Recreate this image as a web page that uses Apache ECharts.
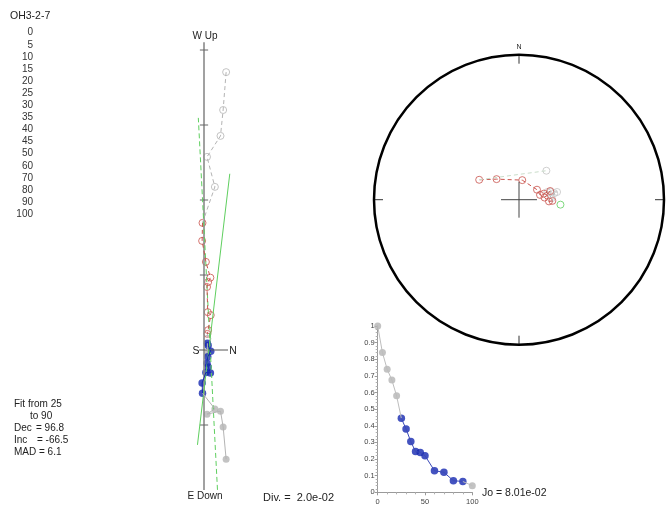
<!DOCTYPE html>
<html><head><meta charset="utf-8">
<script src="https://cdn.jsdelivr.net/npm/echarts@6/dist/echarts.min.js"></script>
<style>html,body{margin:0;background:#fff}#c{width:670px;height:509px}</style>
</head><body><div id="c"></div>
<script>
// ---- specimen data ----
const sampleName = 'OH3-2-7';
const steps = [0, 5, 10, 15, 20, 25, 30, 35, 40, 45, 50, 60, 70, 80, 90, 100];
// remanence components per step, in 1e-3 A/m
const northComp = [5.9, 5.1, 4.4, 0.8, 2.9, -0.4, -0.5, 0.5, 1.7, 1.1, 0.8, 1.0, 1.8, 1.1, 0.9, 0.9];
const eastComp  = [29.1, 20.5, 16.3, 17.1, 15.7, 11.5, 8.8, 6.0, 6.1, 4.5, 3.5, 1.8, 0.3, -1.2, -1.8, 0.85];
const upComp    = [74.1, 64.0, 57.1, 51.5, 43.5, 33.9, 29.1, 23.5, 19.3, 18.1, 16.8, 10.1, 9.3, 5.3, 4.3, 3.0];
// J/Jo per step
const demagRatio = [1, 0.84, 0.74, 0.675, 0.58, 0.445, 0.38, 0.305, 0.245, 0.24, 0.22, 0.13, 0.12, 0.07, 0.065, 0.04];
// PCA fit
const fitFrom = 25, fitTo = 90;
const fitDec = 96.8, fitInc = -66.5, fitMad = 6.1;
const joText = '8.01e-02';
const divText = '2.0e-02';
// orthogonal plot axis furniture (1e-3 A/m)
const zijTicks = [-20, 20, 40, 60, 80];
const zijVertExtent = [-37.3, 82.1];   // E Down .. W Up
const zijHorizExtent = [-1.3, 6.4];    // S .. N
const fitEastRange = [-47, 25.3];
const fitUpRange = [-37.3, 61.9];

// ---- derived ----
const font = 'Liberation Sans, Arial, Helvetica, sans-serif';
const RED = '#c9534c', GREY = '#b4b4b4', BLUE = '#1528b0', GREEN = '#5fcf5f';
const inFit = steps.map(s => s >= fitFrom && s <= fitTo);
const f0 = inFit.indexOf(true), f1 = inFit.lastIndexOf(true);

const vertProj = steps.map((s, i) => [northComp[i], upComp[i]]);
const horizProj = steps.map((s, i) => [northComp[i], -eastComp[i]]);
const pick = (arr, pred) => arr.filter((v, i) => pred(i));

// equal-area radius for an inclination (unit primitive)
const eaR = inc => Math.sqrt(1 - Math.sin(Math.abs(inc) * Math.PI / 180));
const dirs = steps.map((s, i) => {
  const h = Math.hypot(northComp[i], eastComp[i]);
  let dec = Math.atan2(eastComp[i], northComp[i]) * 180 / Math.PI;
  if (dec < 0) dec += 360;
  const inc = Math.atan2(-upComp[i], h) * 180 / Math.PI;
  return [eaR(inc), dec];
});

// fit line through centroid of fitted steps
const fitIdx = steps.map((s, i) => i).filter(i => inFit[i]);
const mean = a => fitIdx.reduce((t, i) => t + a[i], 0) / fitIdx.length;
const cN = mean(northComp), cE = mean(eastComp), cU = mean(upComp);
const dr = Math.PI / 180;
const dN = Math.cos(fitInc * dr) * Math.cos(fitDec * dr);
const dE = Math.cos(fitInc * dr) * Math.sin(fitDec * dr);
const dU = -Math.sin(fitInc * dr);
const fitHoriz = fitEastRange.map(e => [cN + (e - cE) * dN / dE, -e]);
const fitVert = fitUpRange.map(u => [cN + (u - cU) * dN / dU, u]);

const demagPts = steps.map((s, i) => [s, demagRatio[i]]);

const series = [];
const zij = { xAxisIndex: 0, yAxisIndex: 0 };
const seg = (data, color, type, width, extra) => Object.assign({
  type: 'line', data, symbol: 'none', silent: true, animation: false,
  lineStyle: { color, width: width || 1, type: type || 'solid' }
}, zij, extra || {});

// axes of orthogonal plot
series.push(seg([[0, zijVertExtent[1]], [0, zijVertExtent[0]]], '#8a8a8a', 'solid', 1.6));
series.push(seg([[zijHorizExtent[0], 0], [zijHorizExtent[1], 0]], '#555', 'solid', 1));
zijTicks.forEach(t => series.push(seg([[-1.1, t], [1.1, t]], '#666', 'solid', 1)));
// fit lines
series.push(seg(fitHoriz, GREEN, 'solid', 1));
series.push(seg(fitVert, GREEN, [5, 3], 1));
// vertical projection (open)
series.push(seg(vertProj.slice(0, f0 + 1), GREY, [4, 3], 1));
series.push(seg(vertProj.slice(f0, f1 + 1), RED, [4, 3], 1));
series.push(seg(vertProj.slice(f1), GREY, [4, 3], 1));
// horizontal projection (filled)
series.push(seg(horizProj.slice(0, f0 + 1), GREY, 'solid', 1));
series.push(seg(horizProj.slice(f0, f1 + 1), BLUE, 'solid', 1));
series.push(seg(horizProj.slice(f1), GREY, 'solid', 1));
const scat = (data, size, style, extra) => Object.assign({
  type: 'scatter', data, symbol: 'circle', symbolSize: size, silent: true, animation: false, itemStyle: style
}, extra || {});
series.push(scat(pick(vertProj, i => !inFit[i]), 7, { color: 'rgba(0,0,0,0)', borderColor: GREY, borderWidth: 1 }, zij));
series.push(scat(pick(vertProj, i => inFit[i]), 7, { color: 'rgba(0,0,0,0)', borderColor: RED, borderWidth: 1 }, zij));
series.push(scat(pick(horizProj, i => !inFit[i]), 7, { color: GREY }, zij));
series.push(scat(pick(horizProj, i => inFit[i]), 7.5, { color: BLUE }, zij));

// equal-area net
const pol = { coordinateSystem: 'polar' };
const pseg = (data, color, type) => Object.assign({
  type: 'line', data, symbol: 'none', silent: true, animation: false,
  lineStyle: { color, width: 1, type: type || 'solid' }
}, pol);
const cross = 0.124;
series.push(pseg([[cross, 0], [cross, 180]], '#444'));
series.push(pseg([[cross, 90], [cross, 270]], '#444'));
series.push(pseg(dirs.slice(0, f0 + 1), GREY, [4, 3]));
series.push(pseg(dirs.slice(f0, f1 + 1), RED, [4, 3]));
series.push(pseg(dirs.slice(f1), '#c9dcc9', [4, 3]));
series.push(scat(pick(dirs, i => !inFit[i]), 7, { color: 'rgba(0,0,0,0)', borderColor: '#c4c4c4', borderWidth: 1 }, pol));
series.push(scat(pick(dirs, i => inFit[i]), 7, { color: 'rgba(0,0,0,0)', borderColor: RED, borderWidth: 1 }, pol));
series.push(scat([[eaR(fitInc), fitDec]], 7, { color: 'rgba(0,0,0,0)', borderColor: GREEN, borderWidth: 1 }, pol));

// demagnetisation curve
const dm = { xAxisIndex: 1, yAxisIndex: 1 };
const dseg = (data, color) => Object.assign({
  type: 'line', data, symbol: 'none', silent: true, animation: false, lineStyle: { color, width: 1 }
}, dm);
series.push(dseg(demagPts.slice(0, f0 + 1), '#bdbdbd'));
series.push(dseg(demagPts.slice(f0, f1 + 1), '#3a49b8'));
series.push(dseg(demagPts.slice(f1), '#bdbdbd'));
series.push(scat(pick(demagPts, i => !inFit[i]), 7, { color: GREY }, dm));
series.push(scat(pick(demagPts, i => inFit[i]), 7.5, { color: BLUE }, dm));

// ---- text ----
const txt = (text, x, y, size, align, extra) => ({
  type: 'text', x, y, silent: true,
  style: Object.assign({
    text, font: `${size}px ${font}`, fill: '#222',
    align: align || 'left', textAlign: align || 'left',
    verticalAlign: 'middle', textVerticalAlign: 'middle'
  }, extra || {})
});
const graphic = [txt(sampleName, 10, 16, 10.5)];
steps.forEach((s, i) => graphic.push(txt(String(s), 33, 32.7 + i * 12.1, 10, 'right', { fill: '#333' })));
graphic.push(txt('Fit from ' + fitFrom, 14, 404, 10));
graphic.push(txt('to ' + fitTo, 30, 416, 10));
graphic.push(txt('Dec', 14, 428, 10));
graphic.push(txt('= ' + fitDec.toFixed(1), 36, 428, 10));
graphic.push(txt('Inc', 14, 440, 10));
graphic.push(txt('= ' + fitInc.toFixed(1), 37, 440, 10));
graphic.push(txt('MAD = ' + fitMad.toFixed(1), 14, 452, 10));
graphic.push(txt('W Up', 205, 36, 10, 'center'));
graphic.push(txt('E Down', 205, 496, 10, 'center'));
graphic.push(txt('S', 196, 351, 10.5, 'center'));
graphic.push(txt('N', 233, 351, 10.5, 'center'));
graphic.push(txt('Div. =  ' + divText, 263, 498, 11));
graphic.push(txt('Jo = ' + joText, 482, 493, 10.5));

const option = {
  animation: false,
  backgroundColor: '#fff',
  grid: [
    { left: 144, top: 20, width: 120, height: 480 },
    { left: 377.7, top: 326, width: 94.6, height: 166.3 }
  ],
  xAxis: [
    { type: 'value', gridIndex: 0, min: -16, max: 16, show: false },
    { type: 'value', gridIndex: 1, min: 0, max: 100, interval: 50,
      axisLine: { onZero: false, lineStyle: { color: '#9a9a9a' } },
      axisTick: { show: true, length: 3, lineStyle: { color: '#9a9a9a' } },
      minorTick: { show: true, splitNumber: 5, length: 2, lineStyle: { color: '#b0b0b0' } },
      splitLine: { show: false },
      axisLabel: { fontSize: 7.5, color: '#444', margin: 6, fontFamily: font } }
  ],
  yAxis: [
    { type: 'value', gridIndex: 0, min: -40, max: 88, show: false },
    { type: 'value', gridIndex: 1, min: 0, max: 1, interval: 0.1,
      axisLine: { show: true, onZero: false, lineStyle: { color: '#9a9a9a' } },
      axisTick: { show: true, length: 3, lineStyle: { color: '#9a9a9a' } },
      minorTick: { show: true, splitNumber: 5, length: 2, lineStyle: { color: '#b0b0b0' } },
      splitLine: { show: false },
      axisLabel: { fontSize: 7.5, color: '#444', margin: 3, fontFamily: font } }
  ],
  polar: { center: [519, 199.7], radius: 145 },
  angleAxis: {
    type: 'value', min: 0, max: 360, interval: 90, startAngle: 90, clockwise: true,
    axisLine: { lineStyle: { color: '#000', width: 2.5 } },
    axisTick: { show: true, inside: true, length: 9, lineStyle: { color: '#333', width: 1 } },
    splitLine: { show: false },
    axisLabel: { formatter: v => (v === 0 ? 'N' : ''), fontSize: 7, color: '#222', margin: 4, fontFamily: font }
  },
  radiusAxis: {
    type: 'value', min: 0, max: 1,
    axisLine: { show: false }, axisTick: { show: false }, axisLabel: { show: false }, splitLine: { show: false }
  },
  series,
  graphic
};
const chart = echarts.init(document.getElementById('c'));
chart.setOption(option);
</script>
</body></html>
